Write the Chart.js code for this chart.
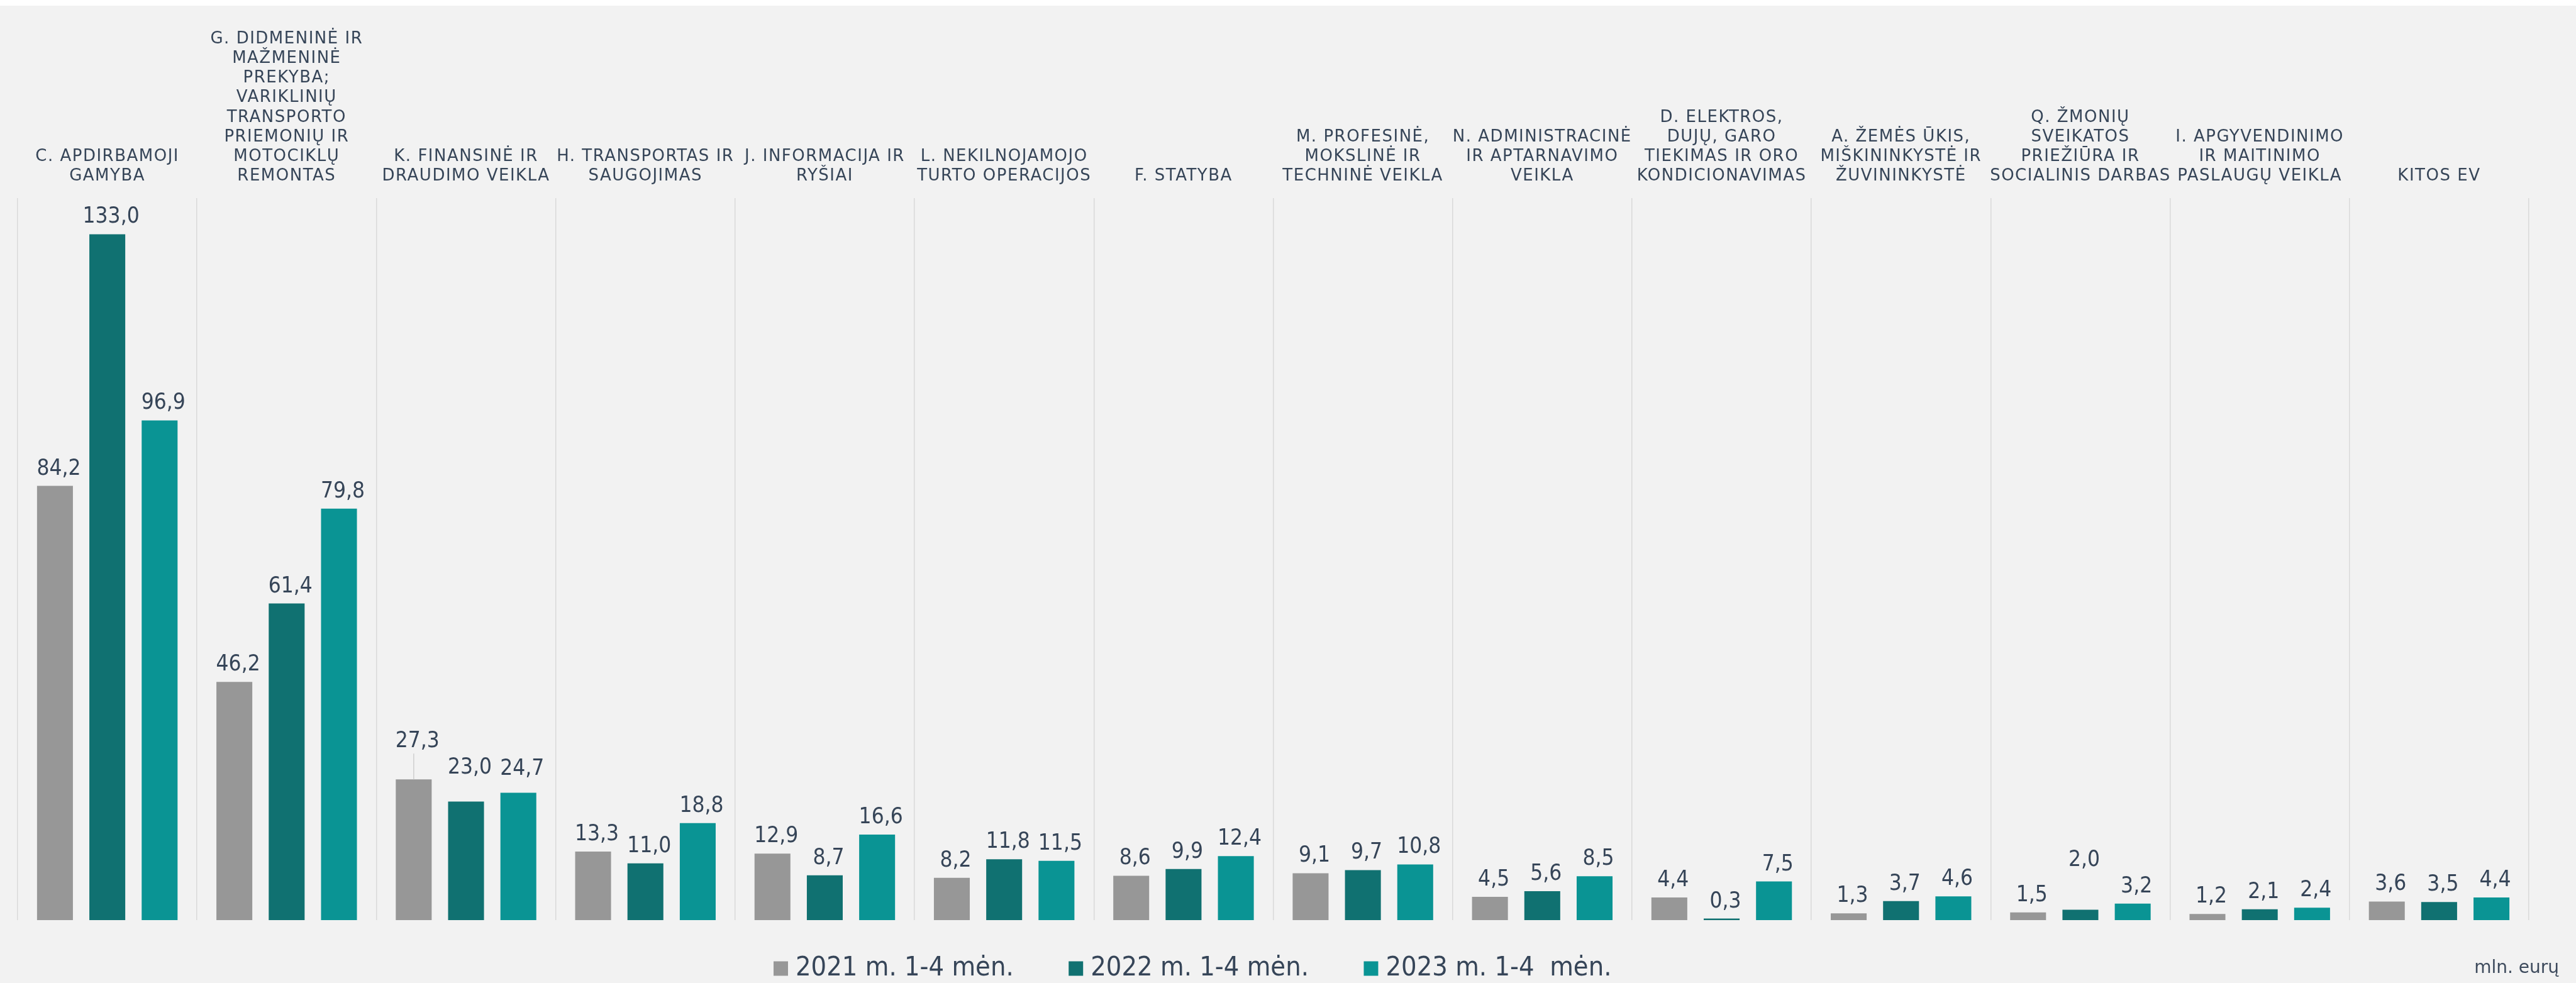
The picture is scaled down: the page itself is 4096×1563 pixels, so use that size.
<!DOCTYPE html>
<html lang="lt">
<head>
<meta charset="utf-8">
<title>Ekonominės veiklos rūšys</title>
<script src="https://cdn.jsdelivr.net/npm/chart.js@4.4.1/dist/chart.umd.min.js"></script>
<style>
  html, body { margin: 0; padding: 0; background: #ffffff; }
  #wrap { width: 4096px; height: 1563px; background: linear-gradient(#ffffff 0 9px, #f2f2f2 9px); }
  canvas { display: block; }
</style>
</head>
<body>
<div id="wrap"><canvas id="chart" width="4096" height="1563"></canvas></div>
<script>
// --- data ---
const categories = [
  ['C. APDIRBAMOJI', 'GAMYBA'],
  ['G. DIDMENINĖ IR', 'MAŽMENINĖ', 'PREKYBA;', 'VARIKLINIŲ', 'TRANSPORTO', 'PRIEMONIŲ IR', 'MOTOCIKLŲ', 'REMONTAS'],
  ['K. FINANSINĖ IR', 'DRAUDIMO VEIKLA'],
  ['H. TRANSPORTAS IR', 'SAUGOJIMAS'],
  ['J. INFORMACIJA IR', 'RYŠIAI'],
  ['L. NEKILNOJAMOJO', 'TURTO OPERACIJOS'],
  ['F. STATYBA'],
  ['M. PROFESINĖ,', 'MOKSLINĖ IR', 'TECHNINĖ VEIKLA'],
  ['N. ADMINISTRACINĖ', 'IR APTARNAVIMO', 'VEIKLA'],
  ['D. ELEKTROS,', 'DUJŲ, GARO', 'TIEKIMAS IR ORO', 'KONDICIONAVIMAS'],
  ['A. ŽEMĖS ŪKIS,', 'MIŠKININKYSTĖ IR', 'ŽUVININKYSTĖ'],
  ['Q. ŽMONIŲ', 'SVEIKATOS', 'PRIEŽIŪRA IR', 'SOCIALINIS DARBAS'],
  ['I. APGYVENDINIMO', 'IR MAITINIMO', 'PASLAUGŲ VEIKLA'],
  ['KITOS EV'],
];
const seriesNames = ['2021 m. 1-4 mėn.', '2022 m. 1-4 mėn.', '2023 m. 1-4  mėn.'];
const values2021 = [84.2, 46.2, 27.3, 13.3, 12.9, 8.2, 8.6, 9.1, 4.5, 4.4, 1.3, 1.5, 1.2, 3.6];
const values2022 = [133.0, 61.4, 23.0, 11.0, 8.7, 11.8, 9.9, 9.7, 5.6, 0.3, 3.7, 2.0, 2.1, 3.5];
const values2023 = [96.9, 79.8, 24.7, 18.8, 16.6, 11.5, 12.4, 10.8, 8.5, 7.5, 4.6, 3.2, 2.4, 4.4];
const unitLabel = 'mln. eurų';

const COLORS = ['#979797', '#107171', '#0a9494'];
const TEXT = '#364558';

// labels moved up by hand in the original (dataset-index, category-index)
const labelLift = { '0-2': 33, '1-2': 26, '2-2': 10, '1-11': 52 };
const leaderLines = { '0-2': 41 };

const valueLabels = {
  id: 'valueLabels',
  afterDatasetsDraw(chart) {
    const ctx = chart.ctx;
    ctx.save();
    ctx.font = '35px "DejaVu Sans Condensed", "DejaVu Sans"';
    ctx.fillStyle = TEXT;
    ctx.textAlign = 'center';
    ctx.textBaseline = 'alphabetic';
    chart.data.datasets.forEach((ds, di) => {
      chart.getDatasetMeta(di).data.forEach((bar, i) => {
        const key = di + '-' + i;
        const lift = labelLift[key] || 0;
        if (leaderLines[key]) {
          ctx.strokeStyle = '#d0d0d0';
          ctx.lineWidth = 1.6;
          ctx.beginPath();
          ctx.moveTo(bar.x, bar.y);
          ctx.lineTo(bar.x, bar.y - leaderLines[key]);
          ctx.stroke();
        }
        const txt = ds.data[i].toFixed(1).replace('.', ',');
        ctx.fillText(txt, bar.x + 6, bar.y - 18 - lift);
      });
    });
    // unit note, bottom right
    ctx.font = '28px "DejaVu Sans"';
    ctx.fillStyle = '#3d4a5c';
    ctx.textAlign = 'right';
    ctx.fillText(unitLabel, 4069, 1547);
    ctx.restore();
    // category labels (ticks layer z=1) are drawn next, slightly letter-spaced
    ctx.letterSpacing = '1.5px';
  },
  afterDraw(chart) {
    chart.ctx.letterSpacing = '0px';
  },
};

// place the legend where the original has it
const legendPlace = {
  id: 'legendPlace',
  afterLayout(chart) {
    const lg = chart.legend;
    const pad = lg.options.labels.padding;
    const dx = 1239.5 - (lg.left + pad);
    lg.left += dx;
    lg.right += dx;
    lg.top = 1540 - pad - 21.5;
    lg.bottom = 1563;
  },
};

new Chart(document.getElementById('chart'), {
  type: 'bar',
  data: {
    labels: categories,
    datasets: [values2021, values2022, values2023].map((vals, i) => ({
      label: seriesNames[i],
      data: vals,
      backgroundColor: COLORS[i],
      borderWidth: 0,
      categoryPercentage: 0.875,
      barPercentage: 0.686,
    })),
  },
  options: {
    responsive: false,
    animation: false,
    layout: { padding: { left: 28, right: 75, top: 0, bottom: 0 } },
    plugins: {
      tooltip: { enabled: false },
      legend: {
        position: 'bottom',
        align: 'start',
        maxHeight: 100,
        labels: {
          color: TEXT,
          font: { family: '"DejaVu Sans Condensed", "DejaVu Sans"', size: 43 },
          // thin box + thick same-colour stroke = 23px swatch with a tight text gap
          boxWidth: 4,
          boxHeight: 4,
          padding: 97,
          generateLabels(chart) {
            return Chart.defaults.plugins.legend.labels.generateLabels(chart).map(it => ({
              ...it, strokeStyle: it.fillStyle, lineWidth: 19, lineJoin: 'miter',
            }));
          },
        },
      },
    },
    scales: {
      x: {
        position: 'top',
        grid: { color: '#d9d9d9', lineWidth: 1.5, drawTicks: false, offset: true },
        border: { display: false },
        ticks: {
          z: 1,
          color: TEXT,
          font: { family: '"DejaVu Sans"', size: 26, lineHeight: 1.2 },
          padding: 19,
          autoSkip: false,
          maxRotation: 0,
          minRotation: 0,
        },
        afterFit(scale) { scale.height = 315; },
      },
      y: { display: false, min: 0, max: 140 },
    },
  },
  plugins: [valueLabels, legendPlace],
});
</script>
</body>
</html>
